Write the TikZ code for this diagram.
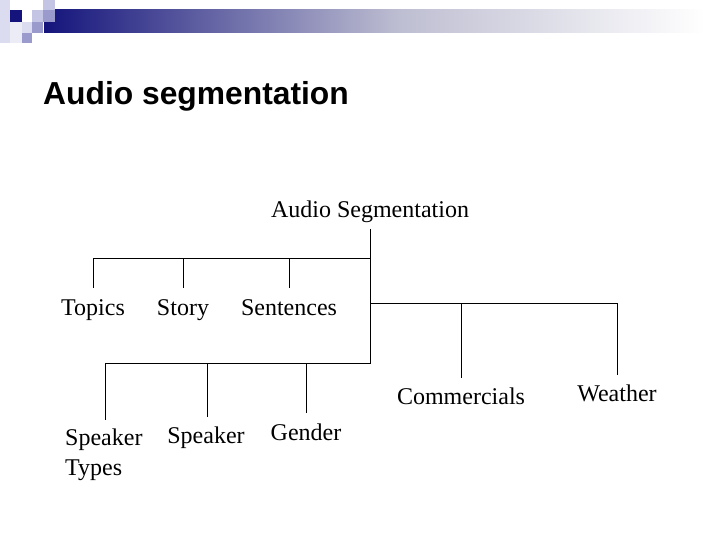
\documentclass[tikz,border=0pt]{standalone}
\usepackage{fontspec}
\setmainfont{Liberation Serif}
\newfontfamily\titlefont{Liberation Sans}
\definecolor{navy}{HTML}{14147C}
\definecolor{lav1}{HTML}{DCDCF0}
\definecolor{lav2}{HTML}{C4C4E4}
\definecolor{lav3}{HTML}{9A9ACC}
\definecolor{lav0}{HTML}{ECECF6}
\definecolor{barmid}{HTML}{BEBED2}
\begin{document}
\begin{tikzpicture}[x=1pt,y=-1pt,
  lbl/.style={anchor=base,inner sep=0pt,font=\fontsize{24}{27}\selectfont},
  conn/.style={line width=1pt,black},
  thickconn/.style={line width=1.8pt,black}]
\useasboundingbox (0,0) rectangle (720,540);
\fill[white] (0,0) rectangle (720,540);
% header decoration
\shade[left color=navy,right color=barmid] (44,10) rectangle (400,33);
\shade[left color=barmid,right color=white] (399.5,10) rectangle (705,33);
\fill[lav1] (0,0) rectangle (10,43);
\fill[lav0] (10,22) rectangle (22,43);
\fill[navy] (10,10) rectangle (22,22);
\fill[lav2] (32,10) rectangle (43,22);
\fill[lav2] (43,0) rectangle (55,10);
\fill[lav3] (43,10) rectangle (55,22);
\fill[lav1] (22,22) rectangle (32,33);
\fill[lav3] (32,22) rectangle (43,33);
\fill[lav3] (22,33) rectangle (32,43);
% title
\node[anchor=base west,inner sep=0pt,font=\titlefont\bfseries\fontsize{31.8}{38}\selectfont] (title) at (43,105) {Audio segmentation};
% labels
\node[lbl] (root) at (370,218) {Audio Segmentation};
\node[lbl] (topics) at (93,315) {Topics};
\node[lbl] (story) at (183,315) {Story};
\node[lbl] (sent) at (289,315) {Sentences};
\node[lbl] (comm) at (461,404) {Commercials};
\node[lbl] (weather) at (617,401) {Weather};
\node[lbl,anchor=base west,align=left] (sptypes) at (65,445) {Speaker};
\node[lbl,anchor=base west] (sptypes2) at (65,475) {Types};
\node[lbl] (speaker) at (206,443) {Speaker};
\node[lbl] (gender) at (306,440) {Gender};
% junction coordinates
\coordinate (r0) at (370,229);
\coordinate (j1) at (370,258);
\coordinate (j2) at (370,303);
\coordinate (j3) at (370,363.5);
\coordinate (t1) at (93,258);   \coordinate (t1e) at (93,288);
\coordinate (s1) at (183,258);  \coordinate (s1e) at (183,288);
\coordinate (n1) at (289,258);  \coordinate (n1e) at (289,288);
\coordinate (c1) at (461,303);  \coordinate (c1e) at (461,378);
\coordinate (w1) at (617,303);  \coordinate (w1e) at (617,375);
\coordinate (k1) at (207,363.5);\coordinate (k1e) at (207,417);
\coordinate (g1) at (306,363.5);\coordinate (g1e) at (306,413);
\coordinate (p1) at (105,363.5);\coordinate (p1e) at (105,420);
% connectors
\draw[conn] (r0) -- (j3);
\draw[conn] (t1) -- (j1);
\draw[conn] (t1) -- (t1e);
\draw[conn] (s1) -- (s1e);
\draw[conn] (n1) -- (n1e);
\draw[conn] (j2) -- (w1) -- (w1e);
\draw[conn] (c1) -- (c1e);
\draw[thickconn] (j3) -- (k1);
\draw[conn] (k1) -- (p1) -- (p1e);
\draw[conn] (k1) -- (k1e);
\draw[conn] (g1) -- (g1e);
\end{tikzpicture}
\end{document}
